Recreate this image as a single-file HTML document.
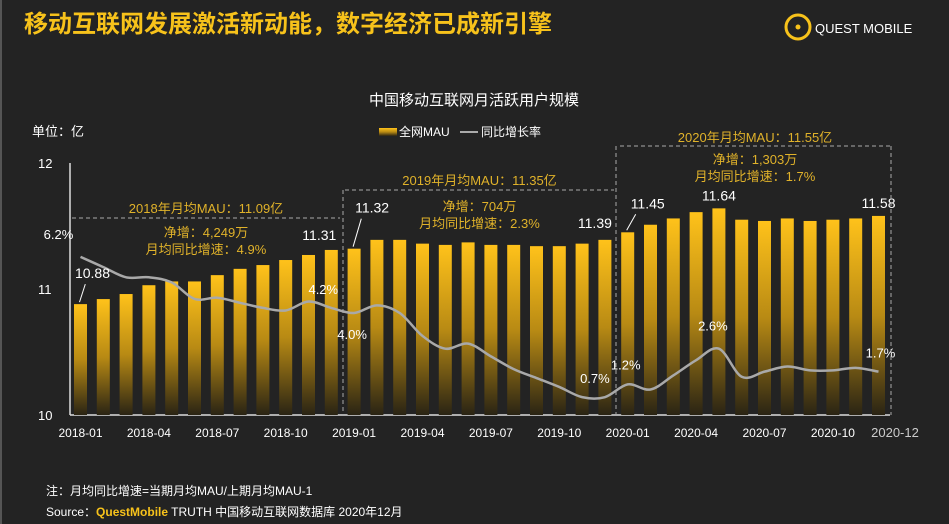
<!DOCTYPE html>
<html><head><meta charset="utf-8"><style>
body{margin:0;background:#232323;}
svg{display:block;font-family:"Liberation Sans","Noto Sans CJK SC",sans-serif;}
</style></head><body>
<svg id="c" width="949" height="524" viewBox="0 0 949 524">
<defs><linearGradient id="g" x1="0" y1="0" x2="0" y2="1"><stop offset="0" stop-color="#ffc21a"/><stop offset="0.5" stop-color="#b88a14"/><stop offset="1" stop-color="#2a2414"/></linearGradient></defs>
<rect x="0" y="0" width="949" height="524" fill="#232323"/>
<rect x="0" y="0" width="2" height="524" fill="#555"/>
<text x="24" y="32" font-size="24" font-weight="bold" fill="#f7c21b">移动互联网发展激活新动能，数字经济已成新引擎</text>
<g><circle cx="798" cy="27" r="12" fill="none" stroke="#f7c21b" stroke-width="3"/><circle cx="798" cy="27" r="2.5" fill="#f7c21b"/><text x="815" y="33" font-size="13" fill="#fff">QUEST MOBILE</text></g>
<text x="474" y="105" font-size="15" fill="#fff" text-anchor="middle">中国移动互联网月活跃用户规模</text>
<text x="32" y="136" font-size="13" fill="#fff">单位：亿</text>
<g><rect x="379" y="128" width="18" height="8" fill="url(#g)"/><text x="399" y="136" font-size="12" fill="#fff">全网MAU</text><line x1="460" y1="132" x2="478" y2="132" stroke="#aaa" stroke-width="2"/><text x="481" y="136" font-size="12" fill="#fff">同比增长率</text></g>
<g id="axes"></g><g id="bars"></g><g id="ann"></g>
</svg>
<script>
const months=[];for(let y=2018;y<=2020;y++)for(let m=1;m<=12;m++)months.push(y+'-'+String(m).padStart(2,'0'));
const mau=[10.88,10.92,10.96,11.03,11.06,11.06,11.11,11.16,11.19,11.23,11.27,11.31,11.32,11.39,11.39,11.36,11.35,11.37,11.35,11.35,11.34,11.34,11.36,11.39,11.45,11.51,11.56,11.61,11.64,11.55,11.54,11.56,11.54,11.55,11.56,11.58];
const growth=[6.2,5.8,5.4,5.4,5.2,4.55,4.6,4.4,4.2,4.1,4.45,4.2,4.0,4.3,4.0,3.1,2.6,2.8,2.3,1.8,1.45,1.1,0.7,0.7,1.2,1.0,1.55,2.15,2.6,1.5,1.7,1.9,1.75,1.75,1.85,1.7];
const yTicks=[10,11,12];
const xTickIdx=[0,3,6,9,12,15,18,21,24,27,30,33];
// [index, dx, dy, leader]
const mauLabels=[[0,12,-26,1],[11,-12,-10,0],[12,18,-36,1],[23,-10,-12,0],[24,20,-24,1],[28,0,-8,0],[35,0,-8,0]];
const growthLabels=[[0,6.2,'6.2%',-22,-18],[11,4.2,'4.2%',-8,-14],[12,4.0,'4.0%',-2,26],[23,0.7,'0.7%',-10,-14],[24,1.2,'1.2%',-2,-15],[28,2.6,'2.6%',-6,-18],[35,1.7,'1.7%',2,-14]];
const NS='http://www.w3.org/2000/svg';
const x0=80.5,dx=22.8,bw=13;
const X=i=>x0+i*dx, Y=v=>415-(v-10)*126, YR=r=>415-r*25.5;
function el(t,a,p,txt){const e=document.createElementNS(NS,t);for(const k in a)e.setAttribute(k,a[k]);if(txt!=null)e.textContent=txt;document.getElementById(p).appendChild(e);return e;}
const ax=el('line',{x1:70,y1:163,x2:70,y2:415,stroke:'#ddd','stroke-width':1.5},'axes');


const bx=el('line',{x1:70,y1:415,x2:890,y2:415,stroke:'#ddd','stroke-width':1.5},'axes');


yTicks.forEach(v=>{const t=el('text',{x:38,y:Y(v)+5,'font-size':13,fill:'#fff'},'axes',String(v));

});
xTickIdx.forEach(i=>{const t=el('text',{x:X(i),y:437,'font-size':12,fill:'#fff','text-anchor':'middle'},'axes',months[i]);

});
const tl=el('text',{x:895,y:437,'font-size':13,fill:'#ccc','text-anchor':'middle'},'axes',months[35]);


mau.forEach((v,i)=>{const r=el('rect',{x:X(i)-bw/2,y:Y(v),width:bw,height:415-Y(v),fill:'url(#g)'},'bars');

});
const P=growth.map((g,i)=>[X(i),YR(g)]);
let d='M'+P[0][0]+','+P[0][1];
for(let i=0;i<P.length-1;i++){const p0=P[Math.max(0,i-1)],p1=P[i],p2=P[i+1],p3=P[Math.min(P.length-1,i+2)];
const c1=[p1[0]+(p2[0]-p0[0])/6,p1[1]+(p2[1]-p0[1])/6],c2=[p2[0]-(p3[0]-p1[0])/6,p2[1]-(p3[1]-p1[1])/6];
d+=' C'+c1[0]+','+c1[1]+' '+c2[0]+','+c2[1]+' '+p2[0]+','+p2[1];}
const ln=el('path',{d:d,fill:'none',stroke:'#a9a9a9','stroke-width':2.5},'bars');


mauLabels.forEach(a=>{const i=a[0],bxp=X(i),by=Y(mau[i]);
const t=el('text',{x:bxp+a[1],y:by+a[2],'font-size':14,fill:'#fff','text-anchor':'middle'},'ann',mau[i].toFixed(2));


if(a[3]){const l=el('line',{x1:bxp-1,y1:by-2,x2:bxp+a[1]*0.4,y2:by+a[2]+6,stroke:'#fff','stroke-width':1},'ann');

}});
growthLabels.forEach(a=>{const t=el('text',{x:X(a[0])+a[3],y:YR(a[1])+a[4],'font-size':13,fill:'#fff','text-anchor':'middle'},'ann',a[2]);

});
const per=[[72,340,218,['2018年月均MAU：11.09亿','净增：4,249万','月均同比增速：4.9%'],343,190,[213,237,254]],
[345,614,190,['2019年月均MAU：11.35亿','净增：704万','月均同比增速：2.3%'],616,146,[185,211,228]],
[620,890,146,['2020年月均MAU：11.55亿','净增：1,303万','月均同比增速：1.7%'],891,146,[142,164,181]]];
per.forEach(p=>{
const l=el('line',{x1:p[0],y1:p[2],x2:p[1],y2:p[2],stroke:'#aaa','stroke-dasharray':'4,3'},'ann');


const v=el('line',{x1:p[4],y1:p[5],x2:p[4],y2:415,stroke:'#aaa','stroke-dasharray':'4,3'},'ann');


const cx=(p[0]+p[1])/2;
p[3].forEach((s,k)=>{const t=el('text',{x:cx,y:p[6][k],'font-size':13,fill:'#e0b22a','text-anchor':'middle'},'ann',s);

});});
</script>
<div style="position:absolute;left:46px;top:482px;color:#fff;font:12px 'Liberation Sans','Noto Sans CJK SC',sans-serif;">注：月均同比增速=当期月均MAU/上期月均MAU-1</div>
<div style="position:absolute;left:46px;top:503px;color:#fff;font:12px 'Liberation Sans','Noto Sans CJK SC',sans-serif;">Source：<b style="color:#f7c21b">QuestMobile</b> TRUTH 中国移动互联网数据库 2020年12月</div>
</body></html>
